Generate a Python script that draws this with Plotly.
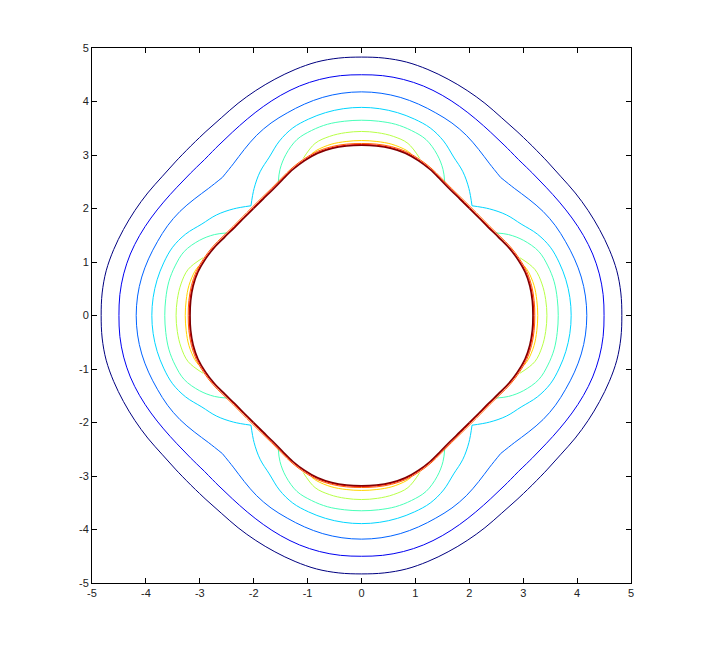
import numpy as np
import plotly.graph_objects as go

# Contour lines of an 8-fold symmetric field.
# Each curve is given in the first octant (angle 0..45 deg) as radii.
oct_ang = [0, 5, 10, 15, 20, 25, 30, 35, 40, 45]

boundary_r = [3.18, 3.18, 3.17, 3.14, 3.08, 3.01, 2.93, 2.87, 2.84, 2.83]

navy_r = [4.83, 4.83, 4.81, 4.76, 4.70, 4.64, 4.58, 4.52, 4.49, 4.48]
darkblue_r = [4.50, 4.50, 4.48, 4.44, 4.38, 4.31, 4.24, 4.18, 4.14, 4.12]
blue_r = [4.18, 4.17, 4.14, 4.09, 4.03, 3.97, 3.89, 3.79, 3.70, 3.65]
cyan_r = [3.89, 3.88, 3.85, 3.80, 3.73, 3.60, 3.42, 3.28, 3.10, 2.90]

# inner levels stop where they hit the flat edge of the boundary
lightcyan_ang = [0, 5, 10, 15, 20, 25, 29, 31.8]
lightcyan_r = [3.65, 3.645, 3.63, 3.58, 3.50, 3.32, 3.12, 2.93]
yellowgreen_ang = [0, 5, 10, 15, 20.2]
yellowgreen_r = [3.44, 3.43, 3.40, 3.33, 3.13]
yellow_ang = [0, 5, 10, 15, 17]
yellow_r = [3.27, 3.265, 3.25, 3.20, 3.16]

# jet colours of the ten contour levels (lowest to highest)
colors = ['#000080', '#0000F0', '#0063FF', '#00D5FF', '#47FFB8',
          '#B8FF47', '#FFD500', '#FF6300', '#F70000', '#800000']


def polar_xy(ang, r):
    x = [rr * np.cos(np.radians(a)) for a, rr in zip(ang, r)]
    y = [rr * np.sin(np.radians(a)) for a, rr in zip(ang, r)]
    return x, y


def segments_between_diagonals(ang, r):
    # one piece per axis, running from diagonal to diagonal (so cusps stay sharp)
    a_full = [-a for a in reversed(ang[1:])] + list(ang)
    r_full = list(reversed(r[1:])) + list(r)
    xs, ys = [], []
    for q in range(4):
        x, y = polar_xy([a + 90 * q for a in a_full], r_full)
        xs += x + [None]
        ys += y + [None]
    return xs, ys


def add_line(x, y, color, width=1):
    fig.add_trace(go.Scatter(
        x=x, y=y, mode='lines',
        line=dict(color=color, width=width, shape='spline', smoothing=1.0),
        hoverinfo='skip', showlegend=False, connectgaps=False))


fig = go.Figure()

add_line(*segments_between_diagonals(oct_ang, navy_r), colors[0])
add_line(*segments_between_diagonals(oct_ang, darkblue_r), colors[1])
add_line(*segments_between_diagonals(oct_ang, blue_r), colors[2])
add_line(*segments_between_diagonals(oct_ang, cyan_r), colors[3])
add_line(*segments_between_diagonals(lightcyan_ang, lightcyan_r), colors[4])
add_line(*segments_between_diagonals(yellowgreen_ang, yellowgreen_r), colors[5])
add_line(*segments_between_diagonals(yellow_ang, yellow_r), colors[6])

# the top levels crowd onto the inner boundary
add_line(*segments_between_diagonals(oct_ang, [v + 0.035 for v in boundary_r]), colors[7])
add_line(*segments_between_diagonals(oct_ang, [v + 0.015 for v in boundary_r]), colors[8])
add_line(*segments_between_diagonals(oct_ang, boundary_r), colors[9], 1.5)

ticks = [-5, -4, -3, -2, -1, 0, 1, 2, 3, 4, 5]
ticktext = [str(t) for t in ticks]

axis_style = dict(
    range=[-5, 5], tickvals=ticks, ticktext=ticktext, ticks='inside', ticklen=5,
    showline=True, linecolor='black', linewidth=1, mirror='allticks', tickcolor='black',
    showgrid=False, zeroline=False,
    tickfont=dict(family='Liberation Sans, Arial', size=11, color='#222222'),
)

fig.update_layout(
    width=695, height=640,
    margin=dict(l=84, r=72, t=40, b=65),
    paper_bgcolor='white', plot_bgcolor='white',
    xaxis=axis_style, yaxis=axis_style,
)

fig.write_html("out.html")
